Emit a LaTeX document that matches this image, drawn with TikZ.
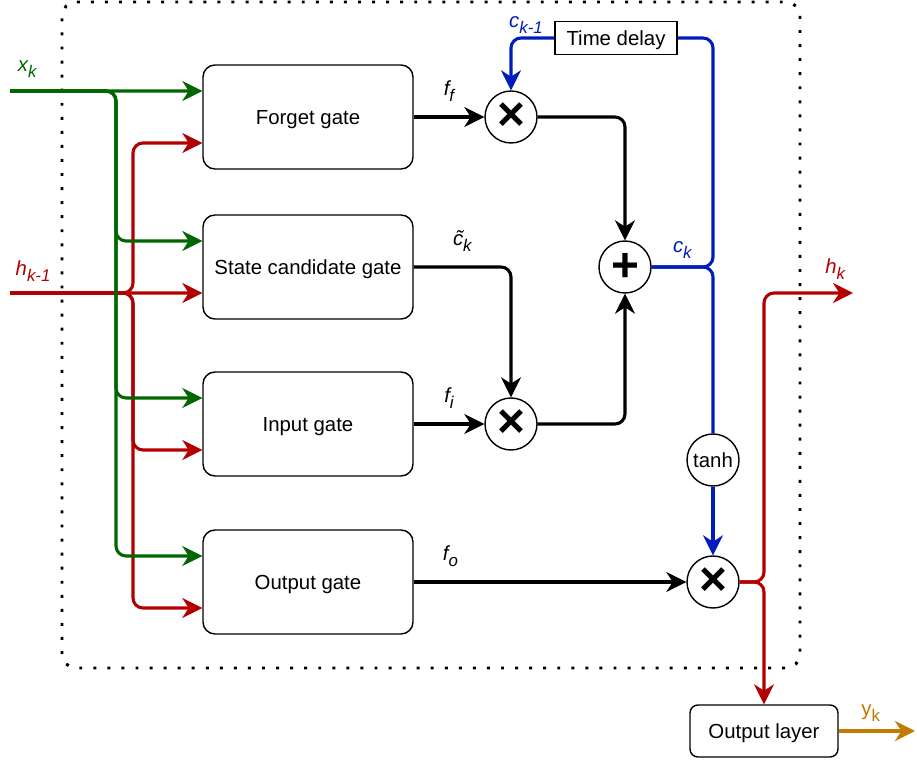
\documentclass[tikz,border=0pt]{standalone}
\usepackage{fontspec}
\setmainfont{Liberation Sans}
\usetikzlibrary{arrows.meta}

\definecolor{xgreen}{HTML}{006600}
\definecolor{hred}{HTML}{B20000}
\definecolor{cblue}{HTML}{001DBC}
\definecolor{yorange}{HTML}{C27A00}

\newcommand\lsub[1]{\raisebox{-4.3pt}{\fontsize{12}{12}\selectfont #1}}

\begin{document}
\begin{tikzpicture}[x=0.25mm, y=0.25mm,
    font=\fontsize{14.5}{17}\selectfont,
    wire/.style={line width=2.2pt, rounded corners=2.5mm},
    flow/.style={wire, -{Stealth[length=5mm, width=5mm, inset=1.6mm]}},
    box/.style={draw, line width=1pt, text depth=0pt},
    gate/.style={box, rounded corners=3mm,
      minimum width=52.5mm, minimum height=26mm},
    op/.style={draw, circle, line width=1pt, minimum size=13mm, inner sep=0pt},
    sym/.style={op, font=\fontsize{34}{34}\selectfont\bfseries},
    lbl/.style={font=\fontsize{14.5}{17}\selectfont\itshape},
  ]
  \useasboundingbox (0,0) rectangle (917,762);
  \draw[line width=2.1pt, dash pattern=on 2.1pt off 7.9pt, rounded corners=3.5mm]
    (62,94) rectangle (800,760);

  \node[gate] (fg) at (308,645) {Forget gate};
  \node[gate] (sc) at (308,495) {State candidate gate};
  \node[gate] (ig) at (308,338) {Input gate};
  \node[gate] (og) at (308,180) {Output gate};
  \node[sym] (mf)  at (511,645) {×};
  \node[sym] (add) at (625,495) {+};
  \node[sym] (mi)  at (511,338) {×};
  \node[op]  (tanh) at (713,302) {tanh};
  \node[sym] (mo)  at (713,180) {×};
  \node[box, minimum width=30.5mm, minimum height=8.25mm]
    (delay) at (616,724) {Time delay};
  \node[box, rounded corners=2mm, minimum width=37mm, minimum height=13mm]
    (outl) at (764,31) {Output layer};

  \coordinate (xin)  at (10,671);
  \coordinate (hin)  at (10,469);
  \coordinate (xbus) at (116,0);
  \coordinate (hbus) at (133,0);
  \coordinate (hk)   at (853,469);
  \coordinate (yk)   at (915,31);
  \foreach \g in {fg,sc,ig,og}{
    \coordinate (\g-x) at ([yshift=6.5mm]\g.west);
    \coordinate (\g-h) at ([yshift=-6.5mm]\g.west);
  }

  \draw[flow, hred] (hin) -- node[lbl, pos=0.12, above=1.35mm] (lh) {h\lsub{k-1}} (sc-h);
  \foreach \g in {fg,ig,og}
    \draw[flow, hred] (hin) -- (hin -| hbus) |- (\g-h);
  \draw[flow, xgreen] (xin) -- node[lbl, pos=0.09, above=1.85mm] (lx) {x\lsub{k}} (fg-x);
  \foreach \g in {sc,ig,og}
    \draw[flow, xgreen] (xin) -- (xin -| xbus) |- (\g-x);

  \draw[flow] (fg) -- node[lbl, above=2.35mm] (lff) {f\lsub{f}} (mf);
  \draw[flow] (sc) -| node[lbl, pos=0.25, above=2.35mm] (lct) {\~{c}\lsub{k}} (mi);
  \draw[flow] (ig) -- node[lbl, above=2.35mm] (lfi) {f\lsub{i}} (mi);
  \draw[flow] (og) -- node[lbl, pos=0.135, above=2.35mm] (lfo) {f\lsub{o}} (mo);
  \draw[flow] (mf) -| (add);
  \draw[flow] (mi) -| (add);

  \draw[wire, cblue] (add) -- node[lbl, cblue, above=0.6mm] (lck) {c\lsub{k}} (add.east -| tanh.north) |- (delay);
  \draw[wire, cblue] (add) -- (add.east -| tanh.north) -- (tanh);
  \draw[flow, cblue] (tanh) -- (mo);
  \draw[flow, cblue] (delay) -| node[lbl, cblue, pos=0.5, anchor=south west, xshift=-2mm, yshift=-0.5mm] (lck1) {c\lsub{k-1}} (mf);

  \draw[flow, hred] (mo) -- (mo.east -| outl.north) |- node[lbl, hred, pos=0.9, above=1.85mm] (lhk) {h\lsub{k}} (hk);
  \draw[flow, hred] (mo) -- (mo.east -| outl.north) -- (outl);
  \draw[flow, yorange] (outl) -- node[lbl, yorange, pos=0.42, above=0.85mm, font=\fontsize{14.5}{17}\selectfont\upshape] (lyk) {y\lsub{k}} (yk);
\end{tikzpicture}
\end{document}
